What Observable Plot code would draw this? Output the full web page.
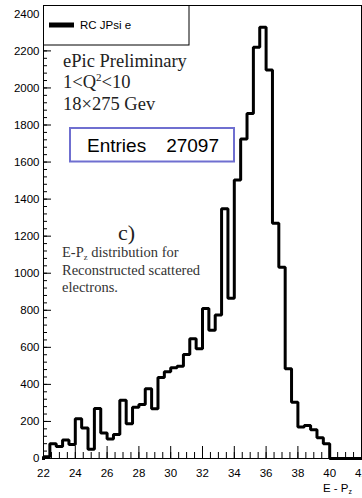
<!DOCTYPE html>
<html>
<head>
<meta charset="utf-8">
<script src="https://cdn.jsdelivr.net/npm/d3@7"></script>
<script src="https://cdn.jsdelivr.net/npm/@observablehq/plot@0.6"></script>
<style>
  html, body { margin: 0; padding: 0; background: #fff; overflow: hidden; }
  #chart svg { display: block; overflow: hidden; }
</style>
</head>
<body>
<div id="chart"></div>
<script>
// E - Pz of reconstructed scattered electrons, 0.4-wide bins from 22 to 42
const binLeftEdges = [
  22.0, 22.4, 22.8, 23.2, 23.6, 24.0, 24.4, 24.8, 25.2, 25.6,
  26.0, 26.4, 26.8, 27.2, 27.6, 28.0, 28.4, 28.8, 29.2, 29.6,
  30.0, 30.4, 30.8, 31.2, 31.6, 32.0, 32.4, 32.8, 33.2, 33.6,
  34.0, 34.4, 34.8, 35.2, 35.6, 36.0, 36.4, 36.8, 37.2, 37.6,
  38.0, 38.4, 38.8, 39.2, 39.6, 40.0, 40.4, 40.8, 41.2, 41.6
];
const binCounts = [
  10, 80, 65, 100, 75, 215, 165, 50, 270, 137,
  105, 130, 315, 187, 277, 291, 377, 268, 437, 468,
  490, 498, 561, 646, 592, 809, 692, 775, 1348, 865,
  1503, 1724, 1862, 2219, 2327, 2097, 1270, 1032, 484, 304,
  170, 178, 155, 112, 79, 0, 0, 0, 0, 0
];
const histogramEnd = 42;
const xDomain = [22, 42];
const yDomain = [0, 2445];
const xTickValues = [22, 24, 26, 28, 30, 32, 34, 36, 38, 40, 42];
const yTickValues = [0, 200, 400, 600, 800, 1000, 1200, 1400, 1600, 1800, 2000, 2200, 2400];
const seriesName = "RC JPsi e";
const entryCount = 27097;

// Minor tick positions for the ROOT-style axes
const xMinorTicks = d3.range(22, 42.001, 0.5);
const yMinorTicks = d3.range(0, 2441, 40);

// Outline of the histogram: one step per bin, closed at both ends on zero
const outline = [{x: binLeftEdges[0], y: 0}]
  .concat(binLeftEdges.map((x, i) => ({x, y: binCounts[i]})))
  .concat([{x: histogramEnd, y: 0}]);

const blank = () => "";

const plot = Plot.plot({
  width: 362,
  height: 498,
  marginLeft: 43,
  marginRight: 1,
  marginTop: 5,
  marginBottom: 40,
  style: {
    fontFamily: "'Liberation Sans', Arial, Helvetica, sans-serif",
    fontSize: "11.5px",
    background: "white",
    color: "black",
    overflow: "hidden"
  },
  x: {domain: xDomain},
  y: {domain: yDomain},
  marks: [
    Plot.frame({stroke: "black", strokeWidth: 1}),
    Plot.axisY(yMinorTicks, {tickSize: -4, tickFormat: blank, label: null}),
    Plot.axisY(yTickValues, {tickSize: -8, tickFormat: blank, label: null}),
    Plot.axisY(yTickValues, {tickSize: 0, tickPadding: 4, tickFormat: d => String(d), label: null}),
    Plot.axisX(xMinorTicks, {tickSize: -6, tickFormat: blank, label: null}),
    Plot.axisX(xTickValues, {tickSize: -12, tickFormat: blank, label: null}),
    Plot.axisX(xTickValues, {tickSize: 0, tickPadding: 10, tickFormat: d => String(d), label: null}),
    Plot.line(outline, {
      x: "x", y: "y", curve: "step-after",
      stroke: "black", strokeWidth: 3, strokeLinejoin: "miter", strokeLinecap: "square"
    })
  ]
});

document.getElementById("chart").append(plot);

// Annotations: legend, labels and statistics box
const svg = d3.select(plot);
const ann = svg.append("g");
const sans = "'Liberation Sans', Arial, Helvetica, sans-serif";
const serif = "'Liberation Serif', 'Times New Roman', Times, serif";

function addText(x, y, parts, opts) {
  const t = ann.append("text")
    .attr("x", x).attr("y", y)
    .attr("font-family", opts.family)
    .attr("font-size", opts.size)
    .attr("fill", opts.fill || "black")
    .attr("text-anchor", opts.anchor || "start");
  let shift = 0;
  for (const p of parts) {
    const s = t.append("tspan").text(p.text);
    const target = p.sub ? opts.size * 0.2 : p.sup ? -opts.size * 0.38 : 0;
    if (target !== shift) { s.attr("dy", target - shift); shift = target; }
    if (p.sub || p.sup) s.attr("font-size", opts.size * 0.6);
  }
  return t;
}

// legend box
ann.append("rect")
  .attr("x", 43.5).attr("y", 5.5).attr("width", 145.5).attr("height", 39.5)
  .attr("fill", "white").attr("stroke", "black").attr("stroke-width", 1);
ann.append("line")
  .attr("x1", 49).attr("x2", 74).attr("y1", 25).attr("y2", 25)
  .attr("stroke", "black").attr("stroke-width", 5);
addText(80, 29, [{text: seriesName}], {family: sans, size: 11.5});

// title block
addText(63, 67, [{text: "ePic Preliminary"}], {family: serif, size: 18.5, fill: "#222"});
addText(63, 88, [{text: "1<Q"}, {text: "2", sup: true}, {text: "<10"}], {family: serif, size: 18.5, fill: "#222"});
addText(63, 110, [{text: "18×275 Gev"}], {family: serif, size: 18.5, fill: "#222"});

// entries box
ann.append("rect")
  .attr("x", 70).attr("y", 128).attr("width", 164).attr("height", 33.5)
  .attr("fill", "white").attr("stroke", "#6f6fd0").attr("stroke-width", 2);
addText(87, 152, [{text: "Entries"}], {family: sans, size: 19});
addText(219, 152, [{text: String(entryCount)}], {family: sans, size: 19, anchor: "end"});

// panel label and description
addText(118, 240, [{text: "c)"}], {family: serif, size: 22, fill: "#222"});
addText(62, 257, [{text: "E-P"}, {text: "z", sub: true}, {text: " distribution for"}], {family: serif, size: 14.5, fill: "#333"});
addText(62, 275, [{text: "Reconstructed scattered"}], {family: serif, size: 14.5, fill: "#333"});
addText(62, 292, [{text: "electrons."}], {family: serif, size: 14.5, fill: "#333"});

// x axis title
addText(352, 492, [{text: "E - P"}, {text: "z", sub: true}], {family: sans, size: 11.5, anchor: "end"});
</script>
</body>
</html>
